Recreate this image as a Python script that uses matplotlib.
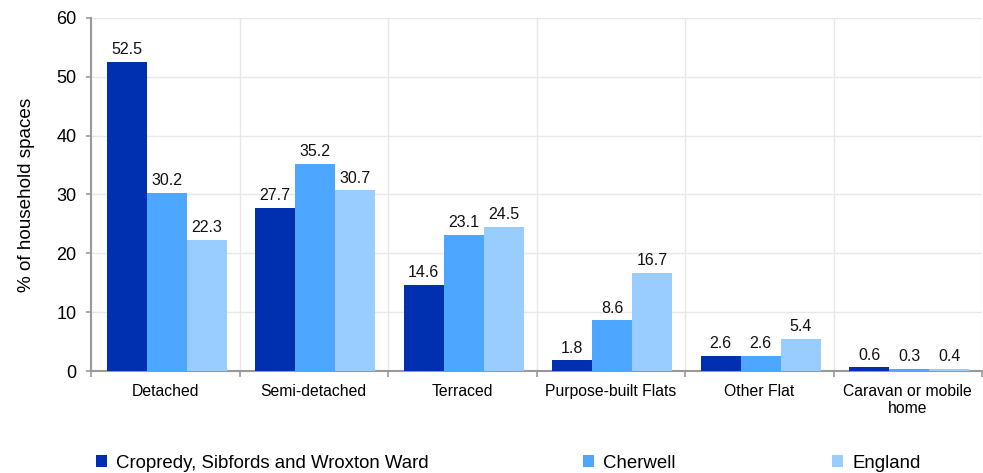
import matplotlib
matplotlib.use("Agg")
import matplotlib.pyplot as plt
import numpy as np

categories = ["Detached", "Semi-detached", "Terraced", "Purpose-built Flats",
              "Other Flat", "Caravan or mobile\nhome"]
series_names = ["Cropredy, Sibfords and Wroxton Ward", "Cherwell", "England"]
ward = [52.5, 27.7, 14.6, 1.8, 2.6, 0.6]
cherwell = [30.2, 35.2, 23.1, 8.6, 2.6, 0.3]
england = [22.3, 30.7, 24.5, 16.7, 5.4, 0.4]
colors = ["#0030B0", "#4DA6FF", "#99CCFF"]
yticks = [0, 10, 20, 30, 40, 50, 60]

plt.rcParams['font.family'] = ['Liberation Sans', 'DejaVu Sans']

fig = plt.figure(figsize=(9.83, 4.73), dpi=100)
ax = fig.add_axes([91/983, 1 - 371/473, (983 - 91)/983 - 0.001, (371 - 18)/473])

x = np.arange(len(categories))
w = 0.27
handles = []
for i, (vals, name) in enumerate(zip([ward, cherwell, england], series_names)):
    pos = x + (i - 1) * w + 0.01
    bars = ax.bar(pos, vals, width=w, color=colors[i], label=name, zorder=3)
    handles.append(bars)
    for p, v in zip(pos, vals):
        ax.annotate(f"{v:.1f}", (p, v), xytext=(0, 3.5), textcoords="offset points",
                    ha="center", va="bottom", fontsize=11.5, color="#111111")

ax.set_xlim(-0.5, len(categories) - 0.5)
ax.set_ylim(0, 60)
ax.set_yticks(yticks)
ax.tick_params(axis="y", labelsize=13, length=3.6, color="#999999", width=1.2, pad=7)
ax.set_xticks(x)
ax.set_xticklabels(categories, fontsize=11.3, linespacing=1.2)
ax.tick_params(axis="x", length=0, pad=9)
ax.set_xticks(np.arange(len(categories) + 1) - 0.5, minor=True)
ax.tick_params(axis="x", which="minor", length=4, color="#999999", width=1.2)

ax.grid(True, axis="y", color="#e8e8e8", linewidth=1, zorder=0)
ax.grid(True, axis="x", which="minor", color="#e8e8e8", linewidth=1, zorder=0)
ax.grid(False, axis="x", which="major")
for s in ["top", "right"]:
    ax.spines[s].set_visible(False)
for s in ["left", "bottom"]:
    ax.spines[s].set_color("#999999")
    ax.spines[s].set_linewidth(1.5)

ax.set_ylabel("% of household spaces", fontsize=13.6)
ax.yaxis.set_label_coords(-(91 - 35) / 892, 0.5)

legend_x = [96, 583, 832]
for h, name, lx in zip(handles, series_names, legend_x):
    leg = fig.legend([h], [name], loc="center left",
                     bbox_to_anchor=(lx / 983, 1 - 463 / 473),
                     frameon=False, fontsize=13.4,
                     handlelength=0.6, handleheight=0.6, handletextpad=0.5,
                     borderaxespad=0, borderpad=0)

fig.savefig("out.png", dpi=100)
